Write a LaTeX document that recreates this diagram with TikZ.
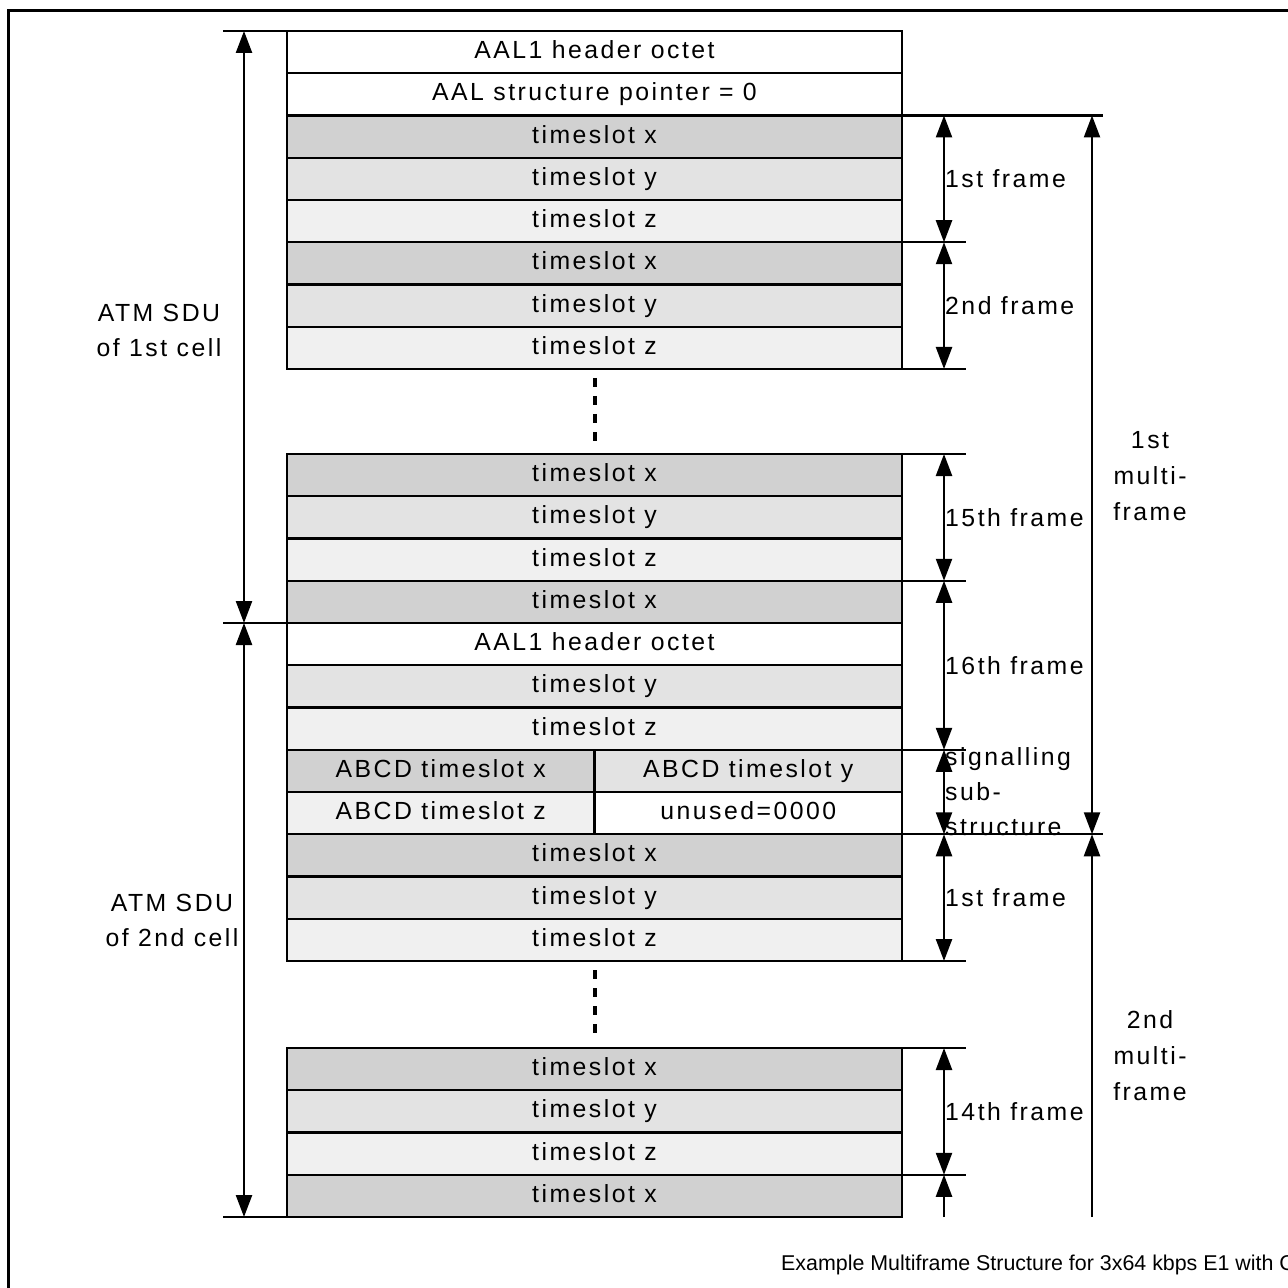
\documentclass[tikz,border=0pt]{standalone}
\usepackage{fontspec}
\newfontfamily\slotfont{Liberation Sans}[LetterSpace=10]
\newfontfamily\capfont{Liberation Sans}
\usetikzlibrary{arrows.meta,positioning}
\colorlet{tsx}{black!18}
\colorlet{tsy}{black!11}
\colorlet{tsz}{black!6}

\begin{document}
\begin{tikzpicture}[x=0.5pt,y=-0.5pt,line width=1.2pt,
    slot/.style={draw,outer sep=0pt,inner sep=0pt,minimum width=307.5pt,
      minimum height=21.125pt,text height=8.8pt,text depth=2.4pt,
      font=\slotfont\fontsize{12.4}{14}\selectfont},
    half/.style={slot,minimum width=153.75pt},
    dimarr/.style={{Triangle[length=11pt,width=8pt]}-{Triangle[length=11pt,width=8pt]}},
    uparr/.style={-{Triangle[length=11pt,width=8pt]}},
    lbl/.style={font=\slotfont\fontsize{12.4}{17.5}\selectfont,inner sep=0pt,
      align=left,anchor=west},
    side/.style={font=\slotfont\fontsize{12.4}{17.5}\selectfont,inner sep=0pt,
      align=center}]
  \useasboundingbox (0,0) rectangle (1287,1288);
  \draw[line width=1.5pt] (8,11) rectangle (1320,1320);

  % first cell
  \node[slot,anchor=north] (hd1) at (594.5,31) {AAL1 header octet};
  \node[slot,below=0pt of hd1] (ptr) {AAL structure pointer = 0};
  \node[slot,fill=tsx,below=0pt of ptr] (x1) {timeslot x};
  \node[slot,fill=tsy,below=0pt of x1] (y1) {timeslot y};
  \node[slot,fill=tsz,below=0pt of y1] (z1) {timeslot z};
  \node[slot,fill=tsx,below=0pt of z1] (x2) {timeslot x};
  \node[slot,fill=tsy,below=0pt of x2] (y2) {timeslot y};
  \node[slot,fill=tsz,below=0pt of y2] (z2) {timeslot z};

  \node[slot,fill=tsx,anchor=north] (x15) at (594.5,454) {timeslot x};
  \node[slot,fill=tsy,below=0pt of x15] (y15) {timeslot y};
  \node[slot,fill=tsz,below=0pt of y15] (z15) {timeslot z};
  \node[slot,fill=tsx,below=0pt of z15] (x16) {timeslot x};
  % second cell
  \node[slot,below=0pt of x16] (hd2) {AAL1 header octet};
  \node[slot,fill=tsy,below=0pt of hd2] (y16) {timeslot y};
  \node[slot,fill=tsz,below=0pt of y16] (z16) {timeslot z};
  \node[half,fill=tsx,anchor=north west] (ax) at (z16.south west) {ABCD timeslot x};
  \node[half,fill=tsy,right=0pt of ax] (ay) {ABCD timeslot y};
  \node[half,fill=tsz,below=0pt of ax] (az) {ABCD timeslot z};
  \node[half,right=0pt of az] (un) {unused=0000};
  \node[slot,fill=tsx,anchor=north] (x1c) at (az.south east) {timeslot x};
  \node[slot,fill=tsy,below=0pt of x1c] (y1c) {timeslot y};
  \node[slot,fill=tsz,below=0pt of y1c] (z1c) {timeslot z};

  \node[slot,fill=tsx,anchor=north] (x14) at (594.5,1048) {timeslot x};
  \node[slot,fill=tsy,below=0pt of x14] (y14) {timeslot y};
  \node[slot,fill=tsz,below=0pt of y14] (z14) {timeslot z};
  \node[slot,fill=tsx,below=0pt of z14] (xl) {timeslot x};

  % dots
  \draw[line width=2pt,dash pattern=on 4.5pt off 4.5pt]
    ([yshift=-4.5pt]z2.south) -- ([yshift=6pt]x15.north);
  \draw[line width=2pt,dash pattern=on 4.5pt off 4.5pt]
    ([yshift=-4.5pt]z1c.south) -- ([yshift=6pt]x14.north);

  % left side
  \draw (hd1.north west) -- ++(-64,0);
  \draw (hd2.north west) -- ++(-64,0);
  \draw (xl.south west) -- ++(-64,0);
  \draw[dimarr] ([xshift=-21.5pt]hd1.north west) -- ([xshift=-21.5pt]hd2.north west);
  \draw[dimarr] ([xshift=-21.5pt]hd2.north west) -- ([xshift=-21.5pt]xl.south west);
  \node[side] (sdu1) at (159,330) {ATM SDU\\of 1st cell};
  \node[side] (sdu2) at (172,920) {ATM SDU\\of 2nd cell};

  % right side, frames
  \foreach \n in {x2.north east,z2.south east,x15.north east,x16.north east,
    ay.north east,z1c.south east,x14.north east,xl.north east}
    \draw (\n) -- ++(64,0);
  \draw (x1.north east) -- ++(201,0);
  \draw (un.south east) -- ++(201,0);
  \draw[dimarr] ([xshift=21pt]x1.north east) -- ([xshift=21pt]x2.north east);
  \draw[dimarr] ([xshift=21pt]x2.north east) -- ([xshift=21pt]z2.south east);
  \draw[dimarr] ([xshift=21pt]x15.north east) -- ([xshift=21pt]x16.north east);
  \draw[dimarr] ([xshift=21pt]x16.north east) -- ([xshift=21pt]ay.north east);
  \draw[dimarr] ([xshift=21pt]ay.north east) -- ([xshift=21pt]un.south east);
  \draw[dimarr] ([xshift=21pt]x1c.north east) -- ([xshift=21pt]z1c.south east);
  \draw[dimarr] ([xshift=21pt]x14.north east) -- ([xshift=21pt]xl.north east);
  \draw[uparr] ([xshift=21pt]xl.south east) -- ([xshift=21pt]xl.north east);
  \node[lbl] (f1) at ([xshift=21pt]y1.east) {1st frame};
  \node[lbl] (f2) at ([xshift=21pt]y2.east) {2nd frame};
  \node[lbl] (f15) at ([xshift=21pt]y15.east) {15th frame};
  \node[lbl] (f16) at ([xshift=21pt]hd2.south east) {16th frame};
  \node[lbl] (sig) at ([xshift=21pt]ay.south east) {signalling\\sub-\\structure};
  \node[lbl] (f1c) at ([xshift=21pt]y1c.east) {1st frame};
  \node[lbl] (f14) at ([xshift=21pt]y14.east) {14th frame};

  % multiframes
  \draw[dimarr] ([xshift=95pt]x1.north east) -- ([xshift=95pt]un.south east);
  \draw[uparr] ([xshift=95pt]xl.south east) -- ([xshift=95pt]un.south east);
  \node[side,font=\slotfont\fontsize{12.4}{18}\selectfont] (mf1) at (1150,476) {1st\\multi-\\frame};
  \node[side,font=\slotfont\fontsize{12.4}{18}\selectfont] (mf2) at (1150,1056) {2nd\\multi-\\frame};

  \node[anchor=base west,inner sep=0pt,font=\capfont\fontsize{10.7}{12}\selectfont]
    (cap) at (780,1270) {Example Multiframe Structure for 3x64 kbps E1 with C};
\end{tikzpicture}
\end{document}
